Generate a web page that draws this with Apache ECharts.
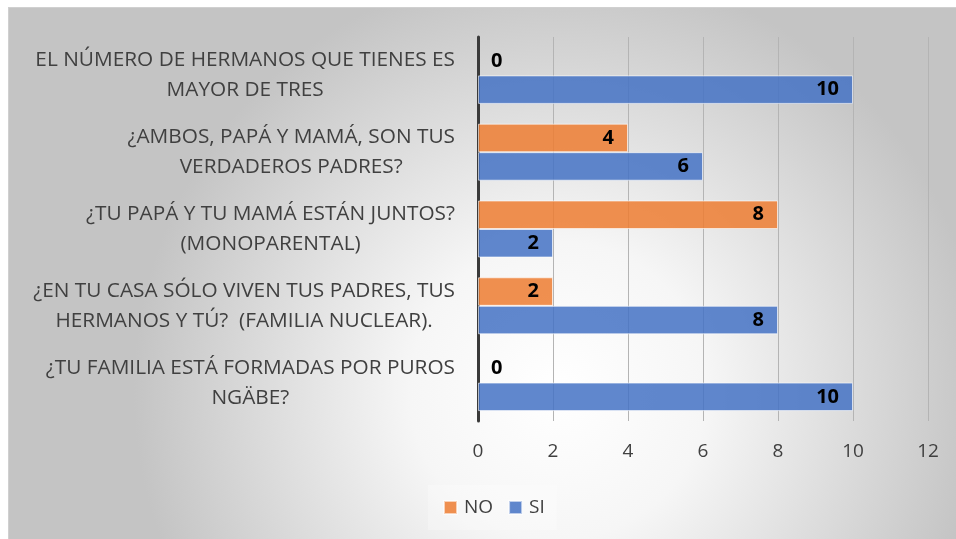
<!DOCTYPE html>
<html><head><meta charset="utf-8">
<script src="https://cdn.jsdelivr.net/npm/echarts@6/dist/echarts.min.js"></script>
<style>
html,body{margin:0;padding:0;background:#fff;}
#wrap{position:absolute;left:8px;top:7px;width:947px;height:531px;border-left:1px solid #d0d0d0;border-top:1px solid #d0d0d0;}
#c{width:947px;height:531px;}
</style></head>
<body><div id="wrap"><div id="c"></div></div>
<script>
const categories = [
  "EL NÚMERO DE HERMANOS QUE TIENES ES\nMAYOR DE TRES",
  "¿AMBOS, PAPÁ Y MAMÁ, SON TUS\nVERDADEROS PADRES?",
  "¿TU PAPÁ Y TU MAMÁ ESTÁN JUNTOS?\n(MONOPARENTAL)",
  "¿EN TU CASA SÓLO VIVEN TUS PADRES, TUS\nHERMANOS Y TÚ?  (FAMILIA NUCLEAR).",
  "¿TU FAMILIA ESTÁ FORMADAS POR PUROS\nNGÄBE?"
];
const seriesNames = ["NO", "SI"];
const noValues = [0, 4, 8, 2, 0];
const siValues = [10, 6, 2, 8, 10];
const xTicks = [0, 2, 4, 6, 8, 10, 12];

const FONT = "Open Sans";
function mkData(vals){
  return vals.map(v => v === 0
    ? {value: v, label: {position: 'right', distance: 13}, itemStyle: {borderWidth: 0}}
    : {value: v});
}
const labelStyle = {show: true, position: 'insideRight', distance: 14, color: '#000', fontWeight: 'bold', fontSize: 20, fontFamily: FONT};

const chart = echarts.init(document.getElementById('c'), null, {renderer: 'canvas'});
chart.setOption({
  backgroundColor: {
    type: 'radial', x: 0.58, y: 0.72, r: 0.8,
    colorStops: [{offset: 0, color: '#ffffff'}, {offset: 0.35, color: '#f6f6f6'}, {offset: 1, color: '#c4c4c4'}]
  },
  animation: false,
  textStyle: {fontFamily: FONT},
  grid: {left: 469, right: 28, top: 29, bottom: 118, containLabel: false},
  legend: {
    data: seriesNames, bottom: 9, left: 419, itemWidth: 13, itemHeight: 13, itemGap: 15,
    icon: 'rect', padding: [13, 12, 13, 15], backgroundColor: 'rgba(255,255,255,0.25)',
    textStyle: {fontSize: 19, color: '#404040', fontFamily: FONT, padding: [0, 0, 0, 2]}
  },
  xAxis: {
    type: 'value', min: 0, max: 12, interval: 2,
    axisLine: {show: false}, axisTick: {show: false},
    splitLine: {show: true, lineStyle: {color: '#b4b4b4', width: 1}},
    axisLabel: {fontSize: 19, color: '#404040', margin: 21, fontFamily: FONT,
      formatter: v => xTicks.includes(v) ? String(v) : ''}
  },
  yAxis: {
    type: 'category', data: categories, inverse: true,
    axisTick: {show: false},
    axisLine: {show: true, lineStyle: {color: '#3a3a3a', width: 3}},
    axisLabel: {
      margin: 23, align: 'right',
      formatter: v => v.split('\n').map(l => '{c|' + l + '}').join('\n'),
      rich: {c: {align: 'center', fontSize: 20.8, lineHeight: 30, color: '#404040', fontFamily: FONT}}
    }
  },
  series: [
    {name: 'NO', type: 'bar', data: mkData(noValues), barWidth: 28.5, barGap: '0%',
     itemStyle: {color: 'rgba(237,125,49,0.85)', borderColor: 'rgba(255,255,255,0.6)', borderWidth: 1},
     label: labelStyle},
    {name: 'SI', type: 'bar', data: mkData(siValues), barWidth: 28.5, barGap: '0%',
     itemStyle: {color: 'rgba(68,114,196,0.85)', borderColor: 'rgba(255,255,255,0.6)', borderWidth: 1},
     label: labelStyle}
  ]
});
</script></body></html>
